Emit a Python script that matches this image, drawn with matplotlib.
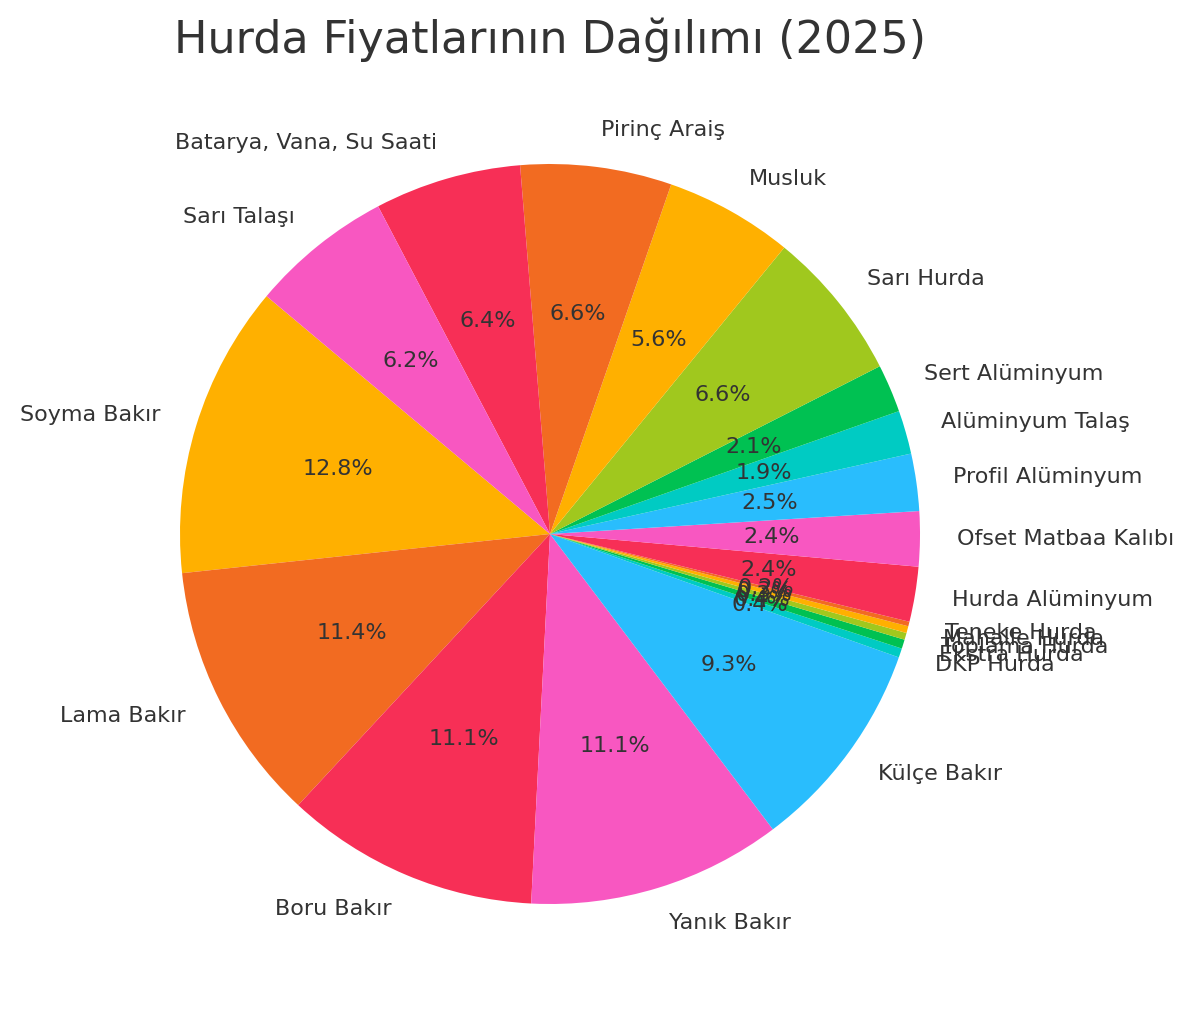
import matplotlib
matplotlib.use("Agg")
import matplotlib.pyplot as plt

# Share of each scrap type (percent), counterclockwise from the Soyma Bakır wedge
labels = [
    "Soyma Bakır", "Lama Bakır", "Boru Bakır", "Yanık Bakır", "Külçe Bakır",
    "DKP Hurda", "Ekstra Hurda", "Toplama Hurda", "Mahalle Hurda", "Teneke Hurda",
    "Hurda Alüminyum", "Ofset Matbaa Kalıbı", "Profil Alüminyum", "Alüminyum Talaş",
    "Sert Alüminyum", "Sarı Hurda", "Musluk", "Pirinç Araiş",
    "Batarya, Vana, Su Saati", "Sarı Talaşı",
]
shares = [
    12.8, 11.4, 11.1, 11.1, 9.3,
    0.4, 0.4, 0.3, 0.3, 0.2,
    2.4, 2.4, 2.5, 1.9,
    2.1, 6.6, 5.6, 6.6,
    6.4, 6.2,
]
palette = ["#FFB000", "#F26B21", "#F72F56", "#F857C1",
           "#29BDFD", "#00CBC3", "#00C152", "#A0C81E"]

TEXT = "#333333"
W, H = 1193, 1016
fig = plt.figure(figsize=(W / 100, H / 100), dpi=100)

cx, cy, r = 550, H - 534, 370
lim = 1.25
side = 2 * lim * r
ax = fig.add_axes([(cx - side / 2) / W, (cy - side / 2) / H, side / W, side / H])

colors = [palette[i % len(palette)] for i in range(len(shares))]
wedges, texts, autotexts = ax.pie(
    shares, labels=labels, colors=colors, autopct="%1.1f%%",
    startangle=140, counterclock=True,
    textprops={"fontsize": 16, "color": TEXT},
)
ax.set_xlim(-lim, lim)
ax.set_ylim(-lim, lim)
ax.set_aspect("equal")
ax.axis("off")

fig.text(550 / W, 1 - 40 / H, "Hurda Fiyatlarının Dağılımı (2025)",
         ha="center", va="center", fontsize=32, color=TEXT)

fig.savefig("out.png", dpi=100)
